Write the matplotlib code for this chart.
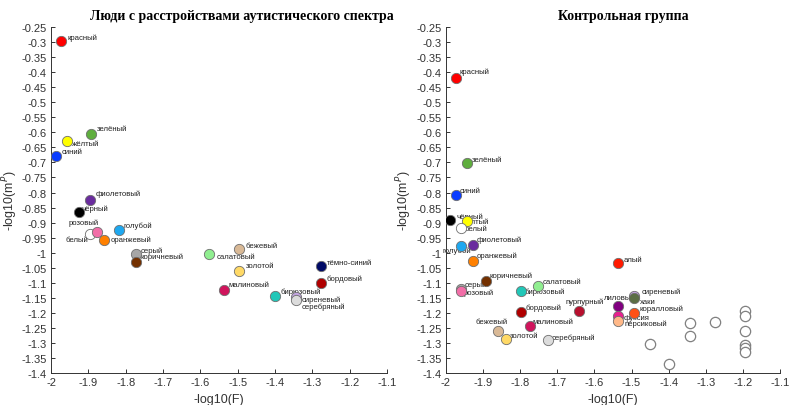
import matplotlib.pyplot as plt
import numpy as np

plt.rcParams['font.family'] = ['Liberation Sans', 'DejaVu Sans']

# --- ASD group ---
asd_names = ['красный', 'зелёный', 'жёлтый', 'синий', 'фиолетовый', 'чёрный',
             'белый', 'розовый', 'голубой', 'оранжевый', 'серый', 'коричневый',
             'салатовый', 'бежевый', 'золотой', 'тёмно-синий', 'бордовый',
             'малиновый', 'бирюзовый', 'сиреневый', 'серебряный']
asd_x = [-1.973, -1.893, -1.957, -1.987, -1.896, -1.926,
         -1.896, -1.876, -1.818, -1.858, -1.773, -1.773,
         -1.576, -1.496, -1.496, -1.277, -1.277,
         -1.537, -1.400, -1.344, -1.344]
asd_y = [-0.297, -0.605, -0.628, -0.680, -0.824, -0.864,
         -0.938, -0.930, -0.924, -0.958, -1.004, -1.030,
         -1.004, -0.988, -1.060, -1.045, -1.101,
         -1.124, -1.144, -1.148, -1.157]

# --- control group ---
ctrl_names = ['красный', 'зелёный', 'синий', 'чёрный', 'жёлтый', 'белый',
              'голубой', 'фиолетовый', 'оранжевый', 'коричневый', 'серый', 'розовый',
              'салатовый', 'бирюзовый', 'бордовый', 'пурпурный', 'бежевый',
              'малиновый', 'золотой', 'серебряный', 'алый', 'лиловый',
              'сиреневый', 'хаки', 'коралловый', 'фуксия', 'персиковый']
ctrl_x = [-1.974, -1.944, -1.974, -1.989, -1.944, -1.960,
          -1.960, -1.928, -1.928, -1.893, -1.960, -1.960,
          -1.751, -1.798, -1.798, -1.642, -1.859,
          -1.774, -1.838, -1.726, -1.536, -1.536,
          -1.493, -1.493, -1.493, -1.536, -1.536]
ctrl_y = [-0.418, -0.703, -0.808, -0.891, -0.894, -0.918,
          -0.979, -0.975, -1.027, -1.095, -1.122, -1.126,
          -1.111, -1.126, -1.196, -1.193, -1.261,
          -1.245, -1.288, -1.290, -1.034, -1.176,
          -1.143, -1.151, -1.201, -1.210, -1.226]

# unlabeled (white) points in control group
extra_x = [-1.450, -1.398, -1.342, -1.342, -1.274, -1.194, -1.194, -1.194, -1.194, -1.194, -1.194]
extra_y = [-1.303, -1.370, -1.235, -1.276, -1.231, -1.195, -1.211, -1.261, -1.307, -1.318, -1.331]

colors = {
    'красный': '#ff0000', 'зелёный': '#5fae3e', 'жёлтый': '#ffff00', 'синий': '#0a3cff',
    'фиолетовый': '#6a2c9e', 'чёрный': '#000000', 'белый': '#ffffff', 'розовый': '#f26ea8',
    'голубой': '#1ea8f0', 'оранжевый': '#ff8000', 'серый': '#a6a6a6', 'коричневый': '#733000',
    'салатовый': '#90ee90', 'бежевый': '#d9b996', 'золотой': '#ffd966', 'тёмно-синий': '#000a66',
    'бордовый': '#b00000', 'малиновый': '#d0145c', 'бирюзовый': '#22c7b8', 'сиреневый': '#c3a6e0',
    'серебряный': '#dcdcdc', 'пурпурный': '#b8102e', 'алый': '#ff1a00', 'лиловый': '#800080',
    'хаки': '#5b6e45', 'коралловый': '#ff5015', 'фуксия': '#e8208f', 'персиковый': '#ffb888',
}

# label offsets in pixels (dx, dy, ha)
asd_off = {
    'красный': (6, 4, 'left'), 'зелёный': (6, 5, 'left'), 'жёлтый': (5, -3, 'left'),
    'синий': (6, 5, 'left'), 'фиолетовый': (6, 6, 'left'), 'чёрный': (3, 4, 'left'),
    'белый': (-2, -5, 'right'), 'розовый': (1, 9, 'right'), 'голубой': (5, 5, 'left'),
    'оранжевый': (7, 1, 'left'), 'серый': (5, 4, 'left'), 'коричневый': (5, 5, 'left'),
    'салатовый': (7, -3, 'left'), 'бежевый': (6, 4, 'left'), 'золотой': (7, 5, 'left'),
    'тёмно-синий': (6, 4, 'left'), 'бордовый': (6, 5, 'left'), 'малиновый': (5, 5, 'left'),
    'бирюзовый': (6, 5, 'left'), 'сиреневый': (6, -2, 'left'), 'серебряный': (6, -6, 'left'),
}
ctrl_off = {
    'красный': (4, 6, 'left'), 'зелёный': (5, 4, 'left'), 'синий': (4, 4, 'left'),
    'чёрный': (6, 4, 'left'), 'жёлтый': (-5, -1, 'left'), 'белый': (4, 0, 'left'),
    'голубой': (-4, -4, 'center'), 'фиолетовый': (4, 6, 'left'), 'оранжевый': (4, 6, 'left'),
    'коричневый': (4, 6, 'left'), 'серый': (4, 5, 'left'), 'розовый': (3, -2, 'left'),
    'салатовый': (4, 5, 'left'), 'бирюзовый': (4, -1, 'left'), 'бордовый': (5, 4, 'left'),
    'пурпурный': (6, 9, 'center'), 'бежевый': (-7, 10, 'center'), 'малиновый': (3, 5, 'left'),
    'золотой': (4, 4, 'left'), 'серебряный': (4, 3, 'left'), 'алый': (5, 3, 'left'),
    'лиловый': (1, 8, 'center'), 'сиреневый': (8, 4, 'left'), 'хаки': (6, -3, 'left'),
    'коралловый': (5, 5, 'left'), 'фуксия': (5, -2, 'left'), 'персиковый': (6, -3, 'left'),
}

fig = plt.figure(figsize=(7.92, 4.06), dpi=100)
ax1 = fig.add_axes([0.0644, 0.0788, 0.4242, 0.852])
ax2 = fig.add_axes([0.5631, 0.0788, 0.4217, 0.852])

tick_col = '#333333'


def draw(ax, names, xs, ys, offs, title, tx, ylx):
    for n, xv, yv in zip(names, xs, ys):
        ax.scatter(xv, yv, s=55, c=colors[n], edgecolors='#6e6e6e', linewidths=0.6, zorder=3)
        dx, dy, ha = offs[n]
        ax.annotate(n, (xv, yv), xytext=(dx, dy), textcoords='offset pixels',
                    ha=ha, va='center', fontsize=5.6, color='#222222', zorder=2)
    ax.set_xlim(-2, -1.1)
    ax.set_ylim(-1.4, -0.25)
    ax.set_xticks(np.arange(-2, -1.05, 0.1))
    ax.set_xticklabels(['-2', '-1.9', '-1.8', '-1.7', '-1.6', '-1.5', '-1.4', '-1.3', '-1.2', '-1.1'])
    yt = np.arange(-1.4, -0.2, 0.05)
    ax.set_yticks(yt)
    ax.set_yticklabels(['%g' % round(v, 2) for v in yt])
    ax.tick_params(direction='in', length=3, width=0.7, labelsize=8, colors=tick_col, pad=3)
    for s in ['top', 'right']:
        ax.spines[s].set_visible(False)
    for s in ['left', 'bottom']:
        ax.spines[s].set_color(tick_col)
        ax.spines[s].set_linewidth(0.7)
    ax.set_xlabel('-log10(F)', fontsize=9, color=tick_col)
    ax.set_ylabel('-log10(m$^{P}$)', fontsize=9, color=tick_col)
    ax.xaxis.set_label_coords(0.5, -0.058)
    ax.yaxis.set_label_coords(ylx, 0.5)
    ax.set_title(title, fontsize=10, fontweight='bold', family='Liberation Serif', pad=6, x=tx)


draw(ax1, asd_names, asd_x, asd_y, asd_off, 'Люди с расстройствами аутистического спектра', 0.567, -0.092)
draw(ax2, ctrl_names, ctrl_x, ctrl_y, ctrl_off, 'Контрольная группа', 0.53, -0.096)
ax2.scatter(extra_x, extra_y, s=55, facecolors='white', edgecolors='#808080', linewidths=0.9, zorder=3)

fig.savefig('out.png', dpi=100)
